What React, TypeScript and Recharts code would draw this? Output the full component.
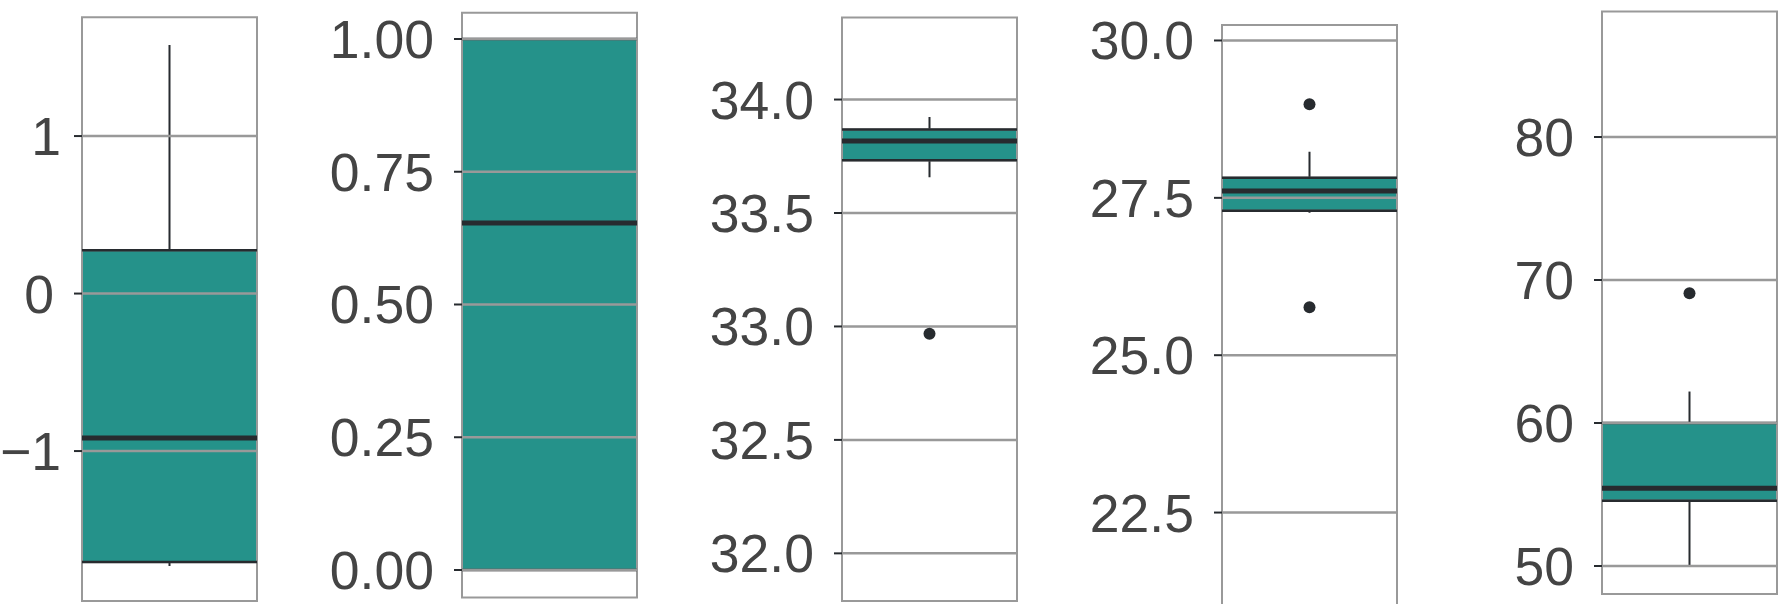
import {
  ComposedChart,
  Bar,
  Scatter,
  XAxis,
  YAxis,
  ReferenceLine,
  ReferenceArea,
} from 'recharts';

// box statistics, one entry per panel
const WHISKER_LOW = [-1.73, 0.0, 33.657, 27.265, 50.0];
const Q1 = [-1.705, 0.0, 33.732, 27.295, 54.57];
const MEDIAN = [-0.917, 0.6535, 33.817, 27.608, 55.43];
const Q3 = [0.275, 1.0, 33.868, 27.82, 60.0];
const WHISKER_HIGH = [1.578, 1.0, 33.923, 28.233, 62.2];
const OUTLIERS = [[], [], [32.968], [28.988, 25.762], [69.08]];

const TICKS = [
  [-1, 0, 1],
  [0, 0.25, 0.5, 0.75, 1],
  [32, 32.5, 33, 33.5, 34],
  [22.5, 25, 27.5, 30],
  [50, 60, 70, 80],
];
const DECIMALS = [0, 2, 1, 1, 0];
const DOMAINS: [number, number][] = [
  [-1.952, 1.754],
  [-0.0518, 1.0495],
  [31.79, 34.362],
  [20.92, 30.246],
  [48.04, 88.77],
];

// layout of each panel frame (px)
const FRAME_LEFT = [82, 462, 842, 1222, 1602];
const FRAME_TOP = [17.3, 12.7, 17.4, 25, 11.6];
const FRAME_BOTTOM = [601, 597.5, 601, 612, 594];
const FRAME_W = 175;
const AXIS_W = 140;

const TEAL = '#25928a';
const DARK = '#272b2f';
const GREY = '#999999';
const TEXT = '#444444';
const FONT = '"Liberation Sans", Arial, sans-serif';

const fmt = (d: number) => (v: number) => {
  const s = Math.abs(v).toFixed(d);
  return v < 0 ? '\u2212' + s : s;
};

// labels are aligned on their ink, so a trailing "1" sits a bit further right
const makeTick = (d: number) => (props: any) => {
  const { x, y, payload } = props;
  const label = fmt(d)(payload.value);
  const shift = label.endsWith('1') ? 7 : 0;
  return (
    <text
      x={x + shift}
      y={y}
      dy="0.355em"
      textAnchor="end"
      fill={TEXT}
      fontSize={53.5}
      fontFamily={FONT}
    >
      {label}
    </text>
  );
};

const BoxShape = (props: any) => {
  const { x, y, width, height } = props;
  return (
    <g>
      <rect x={x} y={y} width={width} height={height} fill={TEAL} stroke={GREY} strokeWidth={2} />
      <line x1={x} x2={x + width} y1={y} y2={y} stroke={DARK} strokeWidth={2.5} />
      <line x1={x} x2={x + width} y1={y + height} y2={y + height} stroke={DARK} strokeWidth={2.5} />
    </g>
  );
};

const WhiskerShape = (props: any) => {
  const { x, y, width, height } = props;
  const cx = x + width / 2;
  return <line x1={cx} x2={cx} y1={y} y2={y + height} stroke={DARK} strokeWidth={2} />;
};

const Dot = (props: any) => {
  const { cx, cy } = props;
  return <circle cx={cx} cy={cy} r={6} fill={DARK} />;
};

function Panel({ i }: { i: number }) {
  const chartH = i === 3 ? 640 : 604;
  const data = [{ name: 'a', box: [Q1[i], Q3[i]], whisker: [WHISKER_LOW[i], WHISKER_HIGH[i]] }];
  const outliers = OUTLIERS[i].map((v) => ({ x: 1, v }));
  const [lo, hi] = DOMAINS[i];
  return (
    <div style={{ position: 'absolute', left: FRAME_LEFT[i] - AXIS_W, top: 0 }}>
      <ComposedChart
        width={AXIS_W + FRAME_W + 4}
        height={chartH}
        data={data}
        barCategoryGap={0}
        margin={{ top: FRAME_TOP[i], bottom: chartH - FRAME_BOTTOM[i], left: 0, right: 4 }}
      >
        <XAxis dataKey="name" type="category" hide />
        <XAxis xAxisId="w" dataKey="name" type="category" hide />
        <XAxis xAxisId="s" dataKey="x" type="number" domain={[0, 2]} hide />
        <YAxis
          type="number"
          domain={DOMAINS[i]}
          ticks={TICKS[i]}
          interval={0}
          allowDataOverflow
          width={AXIS_W}
          axisLine={false}
          tickSize={8}
          tickMargin={20}
          tickLine={{ stroke: DARK, strokeWidth: 2 }}
          tick={makeTick(DECIMALS[i])}
        />
        <Bar xAxisId="w" dataKey="whisker" shape={WhiskerShape} isAnimationActive={false} />
        <Bar dataKey="box" shape={BoxShape} isAnimationActive={false} />
        <ReferenceLine y={MEDIAN[i]} stroke={DARK} strokeWidth={5} />
        {TICKS[i].map((t) => (
          <ReferenceLine key={t} y={t} stroke={GREY} strokeWidth={2.5} />
        ))}
        {outliers.length > 0 && (
          <Scatter xAxisId="s" data={outliers} dataKey="v" shape={Dot} isAnimationActive={false} />
        )}
        <ReferenceArea y1={lo} y2={hi} fill="none" stroke={GREY} strokeWidth={2} ifOverflow="visible" />
      </ComposedChart>
    </div>
  );
}

export default function App() {
  return (
    <div
      style={{
        position: 'absolute',
        left: 0,
        top: 0,
        width: 1785,
        height: 604,
        overflow: 'hidden',
        background: '#fff',
      }}
    >
      {[0, 1, 2, 3, 4].map((i) => (
        <Panel key={i} i={i} />
      ))}
    </div>
  );
}
